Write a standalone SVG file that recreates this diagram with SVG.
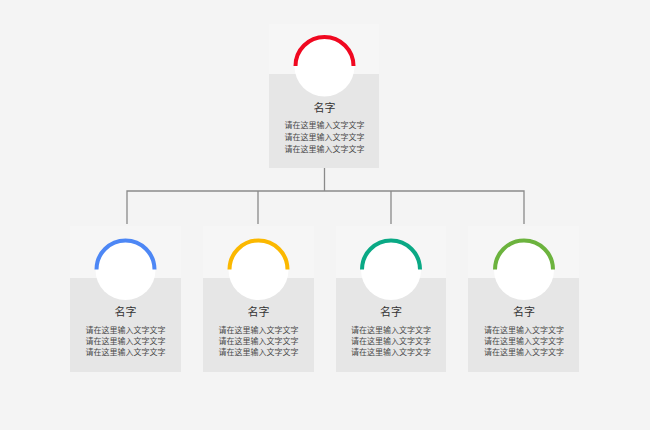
<svg xmlns="http://www.w3.org/2000/svg" width="650" height="430" viewBox="0 0 650 430">
<style>
.bg{fill:#f4f4f4}
.top{fill:#f6f6f6}
.box{fill:#e6e6e6}
.circ{fill:#ffffff}
.arc{fill:none;stroke-width:4}
.name{font-family:"Noto Sans CJK SC","Noto Sans",sans-serif;font-size:11px;fill:#333;text-anchor:middle}
.desc{font-family:"Noto Sans CJK SC","Noto Sans",sans-serif;font-size:8px;fill:#4a4a4a;text-anchor:middle}
.conn{fill:none;stroke:#8a8a8a;stroke-width:1.3}
</style>
<rect class="bg" x="0" y="0" width="650" height="430"/>
<g id="connectors">
<path class="conn" d="M324.5 168 V191 M127 224 V191 H524 V224 M258 191 V224 M391 191 V224"/>
</g>
<g id="node-top">
<rect class="top" x="269" y="24" width="110" height="50"/>
<rect class="box" x="269" y="74" width="110" height="94"/>
<circle class="circ" cx="324.5" cy="66.5" r="30"/>
<path class="arc" stroke="#f00820" d="M295.5 66 A29 29 0 0 1 353.5 66"/>
<text class="name" x="324.5" y="112">名字</text>
<text class="desc" x="324.5" y="128">请在这里输入文字文字</text>
<text class="desc" x="324.5" y="140">请在这里输入文字文字</text>
<text class="desc" x="324.5" y="152">请在这里输入文字文字</text>
</g>
<g id="node-1">
<rect class="top" x="70" y="226" width="111" height="52"/>
<rect class="box" x="70" y="278" width="111" height="94"/>
<circle class="circ" cx="125.5" cy="270" r="30"/>
<path class="arc" stroke="#4d87f5" d="M96.5 269.5 A29 29 0 0 1 154.5 269.5"/>
<text class="name" x="125.5" y="316">名字</text>
<text class="desc" x="125.5" y="333">请在这里输入文字文字</text>
<text class="desc" x="125.5" y="344">请在这里输入文字文字</text>
<text class="desc" x="125.5" y="355">请在这里输入文字文字</text>
</g>
<g id="node-2">
<rect class="top" x="203" y="226" width="111" height="52"/>
<rect class="box" x="203" y="278" width="111" height="94"/>
<circle class="circ" cx="258.5" cy="270" r="30"/>
<path class="arc" stroke="#fbb800" d="M229.5 269.5 A29 29 0 0 1 287.5 269.5"/>
<text class="name" x="258.5" y="316">名字</text>
<text class="desc" x="258.5" y="333">请在这里输入文字文字</text>
<text class="desc" x="258.5" y="344">请在这里输入文字文字</text>
<text class="desc" x="258.5" y="355">请在这里输入文字文字</text>
</g>
<g id="node-3">
<rect class="top" x="336" y="226" width="110" height="52"/>
<rect class="box" x="336" y="278" width="110" height="94"/>
<circle class="circ" cx="391" cy="270" r="30"/>
<path class="arc" stroke="#0aa985" d="M362 269.5 A29 29 0 0 1 420 269.5"/>
<text class="name" x="391" y="316">名字</text>
<text class="desc" x="391" y="333">请在这里输入文字文字</text>
<text class="desc" x="391" y="344">请在这里输入文字文字</text>
<text class="desc" x="391" y="355">请在这里输入文字文字</text>
</g>
<g id="node-4">
<rect class="top" x="468" y="226" width="111" height="52"/>
<rect class="box" x="468" y="278" width="111" height="94"/>
<circle class="circ" cx="524" cy="270" r="30"/>
<path class="arc" stroke="#6cb33e" d="M495 269.5 A29 29 0 0 1 553 269.5"/>
<text class="name" x="524" y="316">名字</text>
<text class="desc" x="524" y="333">请在这里输入文字文字</text>
<text class="desc" x="524" y="344">请在这里输入文字文字</text>
<text class="desc" x="524" y="355">请在这里输入文字文字</text>
</g>
</svg>
